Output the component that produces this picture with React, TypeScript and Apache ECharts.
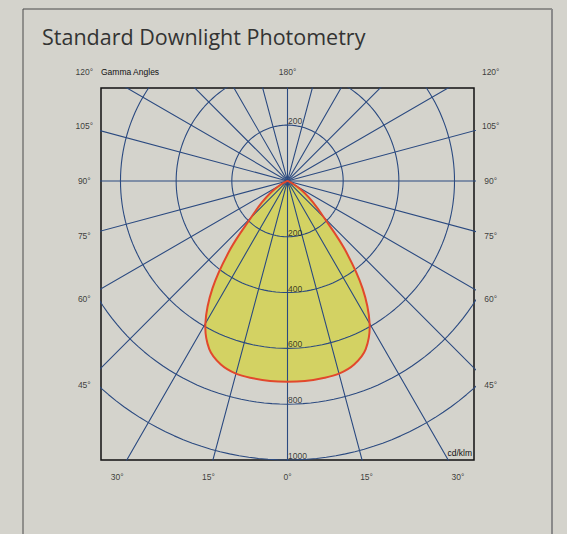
import React, { useEffect, useRef } from "react";
import * as echarts from "echarts";

// Photometric data: gamma angle (0 = straight down) vs intensity (cd/klm)
const gammaAngles = [0, 5, 10, 15, 20, 25, 30, 35, 40, 45, 50, 55, 60, 65, 70];
const intensity = [720, 720, 718, 715, 700, 665, 590, 470, 320, 185, 120, 75, 35, 10, 0];

// Polar grid
const ringValues = [200, 400, 600, 800, 1000];
const rayAngles = [0, 15, 30, 45, 60, 75, 90, 105, 120, 135, 150, 165];

// Tick labels
const sideAngleLabels = [120, 105, 90, 75, 60, 45];
const bottomAngleLabels = [-30, -15, 0, 15, 30];
const topAngleLabel = 180;
const ringLabelsBelow = [200, 400, 600, 800, 1000];
const ringLabelsAbove = [200];

const X_MIN = -670;
const X_MAX = 670;
const Y_MIN = -1000;
const Y_MAX = 333;
const RAD = Math.PI / 180;
const toXY = (g: number, v: number): [number, number] => [v * Math.sin(g * RAD), -v * Math.cos(g * RAD)];

const GRID_COLOR = "#2b4a80";
const LABEL_FONT = "Liberation Sans, Arial, sans-serif";
const LABEL_COLOR = "#111";

export default function App() {
  const ref = useRef<HTMLDivElement>(null);

  useEffect(() => {
    if (!ref.current) return;
    const chart = echarts.init(ref.current, undefined, { renderer: "svg" });

    const right = gammaAngles.map((g, i) => toXY(g, intensity[i]));
    const left = gammaAngles
      .slice(1, -1)
      .map((g, i) => toXY(-g, intensity[i + 1]))
      .reverse();
    const curvePts = [...right, ...left];

    const raySeries = rayAngles.map((a) => ({
      type: "line",
      data: [toXY(a, 3000), [0, 0], toXY(a, -3000)],
      symbol: "none",
      silent: true,
      z: 2,
      lineStyle: { color: GRID_COLOR, width: 1.1 },
    }));

    const ringSeries = ringValues.map((r) => {
      const pts: [number, number][] = [];
      for (let t = 0; t <= 360; t += 2) pts.push(toXY(t, r));
      return {
        type: "line",
        data: pts,
        symbol: "none",
        silent: true,
        z: 2,
        lineStyle: { color: GRID_COLOR, width: 1.1 },
      };
    });

    const SIDE_X = 730;
    const TOP_Y = 390;
    const BOTTOM_Y = -1060;
    const angleLabelData: any[] = [];
    sideAngleLabels.forEach((g) => {
      const y = Math.min(TOP_Y, (-SIDE_X * Math.cos(g * RAD)) / Math.sin(g * RAD));
      angleLabelData.push({ value: [-SIDE_X, y], name: `${g}°` });
      angleLabelData.push({ value: [SIDE_X, y], name: `${g}°` });
    });
    angleLabelData.push({ value: [0, TOP_Y], name: `${topAngleLabel}°` });
    bottomAngleLabels.forEach((g) => {
      angleLabelData.push({ value: [-BOTTOM_Y * Math.tan(g * RAD), BOTTOM_Y], name: `${Math.abs(g)}°` });
    });

    const ringLabelData: any[] = [
      ...ringLabelsBelow.map((v) => ({ value: [0, -v], name: String(v) })),
      ...ringLabelsAbove.map((v) => ({ value: [0, v], name: String(v) })),
    ];

    const option: any = {
      animation: false,
      backgroundColor: "#d4d3cc",
      grid: {
        left: 101,
        top: 88,
        width: 373,
        height: 372,
        show: true,
        borderColor: "#111",
        borderWidth: 1.5,
        backgroundColor: "transparent",
        containLabel: false,
      },
      xAxis: { type: "value", min: X_MIN, max: X_MAX, show: false },
      yAxis: { type: "value", min: Y_MIN, max: Y_MAX, show: false },
      series: [
        {
          type: "custom",
          silent: true,
          z: 1,
          data: [[0, 0]],
          encode: { x: 0, y: 1 },
          renderItem: (_p: any, api: any) => ({
            type: "polygon",
            shape: { points: curvePts.map((p) => api.coord(p)), smooth: 0.35 },
            style: { fill: "#d3d263", stroke: "none" },
          }),
        },
        ...raySeries,
        ...ringSeries,
        {
          type: "custom",
          silent: true,
          z: 3,
          data: [[0, 0]],
          encode: { x: 0, y: 1 },
          renderItem: (_p: any, api: any) => ({
            type: "polygon",
            shape: { points: curvePts.map((p) => api.coord(p)), smooth: 0.35 },
            style: { fill: "none", stroke: "#e2482c", lineWidth: 2 },
          }),
        },
        {
          type: "scatter",
          clip: false,
          silent: true,
          z: 4,
          symbolSize: 1,
          itemStyle: { color: "rgba(0,0,0,0)" },
          data: angleLabelData,
          label: {
            show: true,
            position: "inside",
            formatter: "{b}",
            fontSize: 8.5,
            fontFamily: LABEL_FONT,
            color: LABEL_COLOR,
          },
        },
        {
          type: "scatter",
          clip: false,
          silent: true,
          z: 4,
          symbolSize: 1,
          itemStyle: { color: "rgba(0,0,0,0)" },
          data: ringLabelData,
          label: {
            show: true,
            position: [1, 1],
            align: "left",
            verticalAlign: "bottom",
            formatter: "{b}",
            fontSize: 8.5,
            fontFamily: LABEL_FONT,
            color: LABEL_COLOR,
          },
        },
      ],
      graphic: [
        {
          type: "rect",
          silent: true,
          z: 0,
          shape: { x: 23, y: 9, width: 529, height: 600 },
          style: { fill: "none", stroke: "#4a4a4a", lineWidth: 1 },
        },
        {
          type: "line",
          silent: true,
          z: 1,
          shape: { x1: 552, y1: 9, x2: 552, y2: 540 },
          style: { stroke: "#8a8a8a", lineWidth: 2 },
        },
        {
          type: "text",
          silent: true,
          style: {
            x: 42,
            y: 36,
            text: "Standard Downlight Photometry",
            fontSize: 21.5,
            fontFamily: "Open Sans, sans-serif",
            fill: "#333",
            verticalAlign: "middle",
          },
        },
        {
          type: "text",
          silent: true,
          style: {
            x: 101,
            y: 72,
            text: "Gamma Angles",
            fontSize: 8.5,
            fontFamily: LABEL_FONT,
            fill: LABEL_COLOR,
            verticalAlign: "middle",
          },
        },
        {
          type: "text",
          silent: true,
          z: 10,
          style: {
            x: 472,
            y: 453,
            text: "cd/klm",
            fontSize: 8.5,
            fontFamily: LABEL_FONT,
            fill: LABEL_COLOR,
            align: "right",
            verticalAlign: "middle",
          },
        },
      ],
    };

    chart.setOption(option);
    return () => chart.dispose();
  }, []);

  return (
    <div
      ref={ref}
      style={{ position: "fixed", left: 0, top: 0, width: 567, height: 534 }}
    />
  );
}
